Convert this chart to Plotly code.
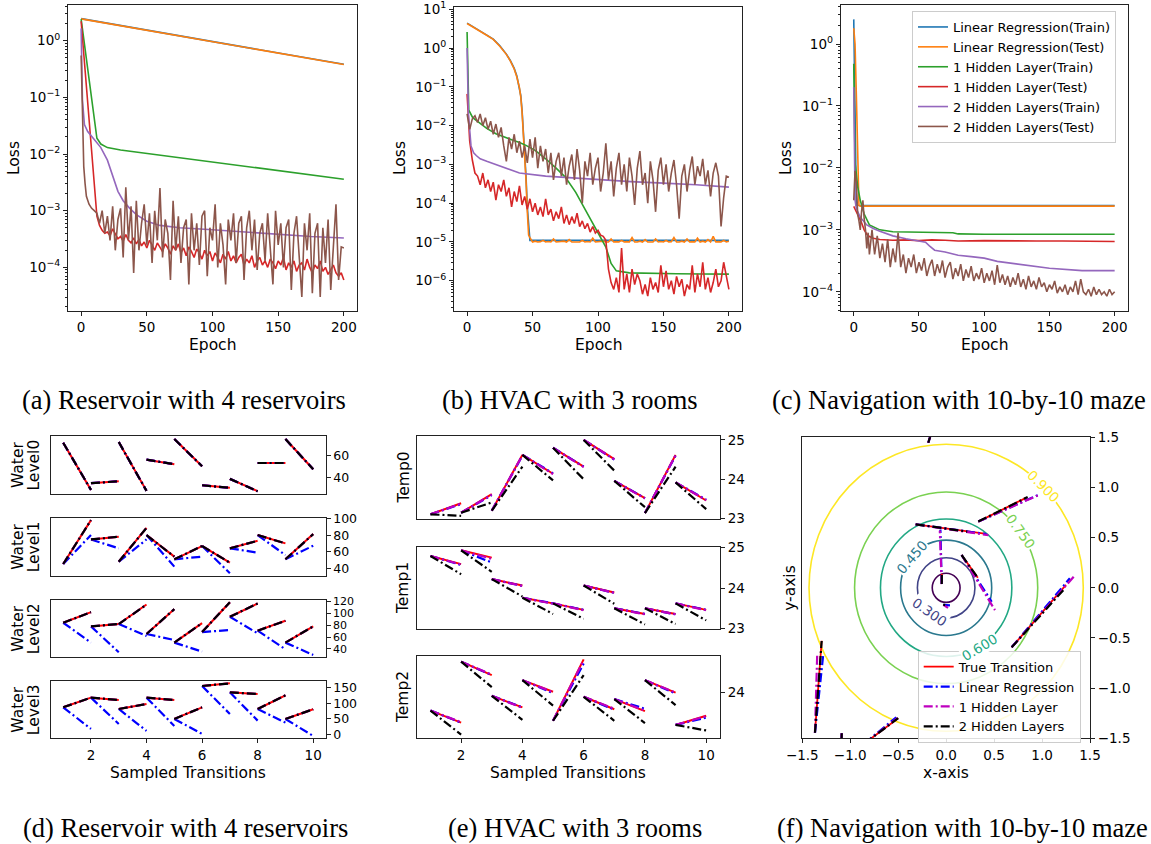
import plotly.graph_objects as go

W, H = 1151, 844

# ======================= DATA =======================
# ---- (a) Reservoir loss curves ----
a_lin_epochs = [0, 20, 40, 60, 80, 100, 120, 140, 160, 180, 200]
a_lin_train = [2.45, 2.03, 1.69, 1.40, 1.16, 0.97, 0.80, 0.67, 0.55, 0.46, 0.385]
a_lin_test = [2.43, 2.02, 1.68, 1.39, 1.15, 0.96, 0.80, 0.66, 0.55, 0.46, 0.38]
a_h1_train_epochs = [0, 2, 4, 6, 8, 10, 12, 15, 20, 30, 40, 50, 75, 100, 125, 150, 175, 200]
a_h1_train = [2.4, 1.05, 0.46, 0.2, 0.087, 0.038, 0.019, 0.015, 0.013, 0.0118, 0.011, 0.0101,
              0.0085, 0.0072, 0.006, 0.0051, 0.0043, 0.0036]
a_h2_train_epochs = [0, 1, 2.5, 5, 10, 15, 20, 24, 28, 32, 37, 42, 50, 60, 75, 100, 125, 150, 175, 200]
a_h2_train = [1.65, 0.09, 0.033, 0.025, 0.018, 0.013, 0.0078, 0.004, 0.0022, 0.0015, 0.0011, 0.00085,
              0.00065, 0.00055, 0.0005, 0.00046, 0.00042, 0.00038, 0.00035, 0.00033]
a_h1_test_head_epochs = [0, 2, 4, 6, 8, 10, 12, 14]
a_h1_test_head = [2.2, 0.59, 0.16, 0.042, 0.011, 0.003, 0.0008, 0.00055]
a_h1_test_tail_start = 16
a_h1_test_tail = [4.5e-4, 4.0e-4, 4.2e-4, 3.6e-4, 4.8e-4, 3.9e-4, 3.2e-4, 3.5e-4, 2.9e-4, 3.8e-4,
                  3.0e-4, 2.7e-4, 3.3e-4, 2.6e-4, 3.1e-4, 2.4e-4, 2.8e-4, 2.2e-4, 3.0e-4, 2.5e-4,
                  2.0e-4, 2.7e-4, 2.3e-4, 1.9e-4, 2.6e-4, 2.2e-4, 1.7e-4, 2.4e-4, 2.0e-4, 2.6e-4,
                  1.8e-4, 2.2e-4, 1.6e-4, 2.3e-4, 1.9e-4, 1.5e-4, 2.1e-4, 1.8e-4, 1.4e-4, 2.0e-4,
                  1.6e-4, 1.9e-4, 1.3e-4, 1.8e-4, 1.5e-4, 1.2e-4, 1.7e-4, 1.4e-4, 1.9e-4, 1.3e-4,
                  1.6e-4, 1.2e-4, 1.5e-4, 1.7e-4, 1.1e-4, 1.4e-4, 1.2e-4, 1.6e-4, 1.0e-4, 1.3e-4,
                  1.5e-4, 1.1e-4, 1.3e-4, 1.0e-4, 1.4e-4, 1.2e-4, 9.5e-5, 1.3e-4, 1.1e-4, 1.5e-4,
                  9.0e-5, 1.2e-4, 1.0e-4, 1.3e-4, 8.5e-5, 1.1e-4, 1.2e-4, 9.0e-5, 1.4e-4, 1.0e-4,
                  8.0e-5, 1.1e-4, 9.5e-5, 1.3e-4, 8.5e-5, 1.0e-4, 7.5e-5, 9.0e-5, 1.1e-4, 8.0e-5,
                  7.0e-5, 8.0e-5, 6.0e-5]
a_h2_test_head_epochs = [0, 1, 2, 3, 4, 6, 8, 10]
a_h2_test_head = [0.55, 0.05, 0.006, 0.003, 0.0018, 0.0013, 0.0011, 0.001]
a_h2_test_tail_start = 12
a_h2_test_tail = [9e-4, 6e-4, 1.0e-3, 4e-4, 8e-4, 3e-4, 1.2e-3, 2e-4, 7e-4, 1.1e-3,
                  1.5e-4, 2.6e-3, 3e-4, 1.2e-3, 8e-5, 1.5e-3, 2e-4, 6e-4, 1.3e-3, 2.5e-4,
                  9e-4, 1.2e-4, 1.0e-3, 3e-4, 2.5e-3, 1.5e-4, 7e-4, 4e-4, 6e-5, 1.5e-3,
                  2e-4, 8e-4, 1.2e-4, 5e-4, 7e-4, 5e-5, 9e-4, 2e-4, 6e-4, 1.1e-4,
                  8e-4, 1e-3, 7e-5, 5e-4, 3e-4, 1.3e-3, 1.0e-4, 6e-4, 2.5e-4, 5e-5,
                  7e-4, 3e-4, 9e-4, 1.2e-4, 6e-4, 8e-4, 6e-5, 5e-4, 1.0e-3, 2e-4,
                  7e-4, 9e-5, 4e-4, 6e-4, 1.3e-4, 9e-4, 2e-4, 5e-5, 1.0e-3, 2.5e-4,
                  6e-4, 1.0e-4, 5e-4, 7e-4, 4e-5, 4e-4, 8e-4, 1.5e-4, 3e-5, 6e-4,
                  2e-4, 9e-4, 3.5e-5, 4e-4, 6e-4, 3e-5, 5e-4, 1.2e-4, 7e-4, 4e-5,
                  3e-4, 1.3e-3, 6e-5, 2.3e-4, 2.2e-4]

# ---- (b) HVAC loss curves ----
b_lin_head_epochs = [0, 5, 10, 15, 20, 25, 30, 33, 36, 38, 40, 41, 42, 43, 44, 45, 46, 47, 48]
b_lin_train_head = [4.4, 3.5, 2.8, 2.2, 1.7, 1.15, 0.7, 0.48, 0.3, 0.19, 0.1, 0.06, 0.025, 0.008,
                    0.0025, 5e-4, 8e-5, 2e-5, 1.1e-5]
b_lin_train_tail_epochs = [60, 80, 100, 120, 140, 160, 180, 200]
b_lin_train_tail = [1.1e-5, 1.1e-5, 1.1e-5, 1.1e-5, 1.1e-5, 1.1e-5, 1.1e-5, 1.1e-5]
b_lin_test_head = [4.3, 3.45, 2.75, 2.15, 1.68, 1.12, 0.69, 0.47, 0.29, 0.18, 0.095, 0.055, 0.022,
                   0.007, 0.002, 4e-4, 6e-5, 1.5e-5, 1.3e-5]
b_lin_test_tail_start = 50
b_lin_test_tail = [1.0e-5, 1.05e-5, 1.0e-5, 1.02e-5, 1.1e-5, 1.0e-5, 1.03e-5, 1.0e-5, 1.2e-5, 1.0e-5,
                   1.02e-5, 1.0e-5, 1.05e-5, 1.0e-5, 1.15e-5, 1.0e-5, 1.02e-5, 1.0e-5, 1.0e-5, 1.1e-5,
                   1.0e-5, 1.03e-5, 1.0e-5, 1.25e-5, 1.0e-5, 1.02e-5, 1.0e-5, 1.05e-5, 1.0e-5, 1.0e-5,
                   1.2e-5, 1.0e-5, 1.02e-5, 1.0e-5, 1.1e-5, 1.0e-5, 1.02e-5, 1.0e-5, 1.3e-5, 1.0e-5,
                   1.0e-5, 1.05e-5, 1.0e-5, 1.15e-5, 1.0e-5, 1.02e-5, 1.0e-5, 1.2e-5, 1.0e-5, 1.03e-5,
                   1.0e-5, 1.1e-5, 1.0e-5, 1.02e-5, 1.3e-5, 1.0e-5, 1.0e-5, 1.05e-5, 1.0e-5, 1.2e-5,
                   1.0e-5, 1.02e-5, 1.0e-5, 1.25e-5, 1.0e-5, 1.05e-5, 1.0e-5, 1.15e-5, 1.0e-5, 1.4e-5,
                   1.0e-5, 1.02e-5, 1.0e-5, 1.1e-5, 1.0e-5, 1.05e-5]
b_h1_train_epochs = [0, 1.3, 4.3, 9.4, 15, 22, 30, 35, 40, 45, 52, 60, 68, 75, 83, 92, 101, 106,
                     110, 114, 124, 140, 160, 180, 200]
b_h1_train = [2.6, 0.025, 0.016, 0.012, 0.0085, 0.0062, 0.0048, 0.0042, 0.0037, 0.0031, 0.0023,
              0.0014, 0.0008, 0.00047, 0.00019, 5.4e-5, 1.6e-5, 7.4e-6, 2.8e-6, 1.8e-6, 1.6e-6,
              1.55e-6, 1.52e-6, 1.5e-6, 1.48e-6]
b_h2_train_epochs = [0, 1, 3, 5, 7, 10, 15, 25, 40, 60, 80, 100, 125, 150, 175, 200]
b_h2_train = [1.0, 0.02, 0.003, 0.002, 0.0017, 0.0014, 0.0012, 0.0009, 0.0006, 0.0005, 0.00045,
              0.0004, 0.00036, 0.00033, 0.0003, 0.00026]
b_h1_test_head_epochs = [0, 1, 2, 4, 6]
b_h1_test_head = [0.066, 0.01, 0.004, 0.0013, 0.0006]
b_h1_test_tail_start = 8
b_h1_test_tail = [5e-4, 3e-4, 6e-4, 2.5e-4, 4e-4, 2e-4, 3.5e-4, 1.2e-4, 3e-4, 2e-4,
                  4e-4, 1.5e-4, 2.5e-4, 8e-5, 2e-4, 1.1e-4, 2.8e-4, 9e-5, 1.5e-4, 7e-5,
                  1.3e-4, 6e-5, 1e-4, 5e-5, 8e-5, 4.5e-5, 1.3e-4, 5e-5, 7e-5, 3.5e-5,
                  6e-5, 4e-5, 8e-5, 3e-5, 5e-5, 2.8e-5, 4.5e-5, 3e-5, 5.5e-5, 2.5e-5,
                  3.5e-5, 2.2e-5, 3e-5, 1.8e-5, 2.5e-5, 1.7e-5, 2e-5, 1.5e-5, 1.4e-5,
                  1.1e-5, 2e-6, 9e-7,
                  6e-7, 1.2e-6, 5e-7, 7e-6, 6e-7, 1.5e-6, 5e-7, 2e-6, 8e-7, 1.5e-6,
                  1e-6, 4.5e-7, 8e-7, 4e-7, 1.2e-6, 6e-7, 9e-7, 5e-7, 2.5e-6, 7e-7,
                  1.8e-6, 6e-7, 1e-6, 4.5e-7, 1.3e-6, 7e-7, 1.1e-6, 4e-7, 8e-7, 6e-7,
                  2.5e-6, 5e-7, 1.5e-6, 7e-7, 3e-6, 6e-7, 1.2e-6, 5e-7, 9e-7, 2e-6,
                  7e-7, 1e-6, 3e-6, 1.2e-6, 6e-7]
b_h2_test_start = 0
b_h2_test = [2e-2, 8e-3, 1.5e-2, 1.8e-2, 1.2e-2, 2e-2, 1e-2, 1.6e-2, 8e-3, 1.3e-2,
             6e-3, 1.1e-2, 5e-3, 9e-3, 3e-3, 1.2e-3, 5e-3, 2.5e-3, 6e-3, 2e-3,
             4e-3, 1.5e-3, 3e-3, 1.1e-3, 4.5e-3, 1.5e-3, 5e-3, 8e-4, 3e-3, 1.2e-3,
             2.5e-3, 6e-4, 2e-3, 4e-4, 1.2e-3, 2e-3, 5e-4, 1.5e-3, 3e-4, 9e-4,
             1.8e-3, 4e-4, 2.5e-3, 7e-4, 1e-4, 1.2e-3, 5e-4, 2e-3, 3e-4, 8e-4,
             1.5e-3, 2e-4, 6e-4, 3.5e-3, 4e-4, 1.2e-3, 1.5e-4, 8e-4, 2e-3, 3e-4,
             1e-3, 2e-4, 1.5e-3, 5e-4, 9e-5, 8e-4, 2.2e-3, 3e-4, 6e-4, 1e-4,
             1.2e-3, 4e-4, 6e-5, 7e-4, 1.5e-3, 3e-4, 1e-3, 2e-4, 6e-4, 1.3e-3,
             3e-4, 4e-5, 5e-4, 1e-3, 2e-4, 7e-4, 1.6e-3, 3e-4, 9e-4, 5e-4,
             1.4e-3, 3e-4, 7e-4, 1.5e-4, 6e-4, 1.1e-3, 5e-4, 2.5e-5, 1.4e-4, 5e-4,
             4.7e-4]

# ---- (c) Navigation loss curves ----
c_lin_train_epochs = [0, 1, 2, 5, 50, 100, 150, 200]
c_lin_train = [2.5, 0.03, 0.0025, 0.00247, 0.00247, 0.00247, 0.00247, 0.00247]
c_lin_test_epochs = [0, 1, 2, 3, 4, 5, 50, 100, 150, 200]
c_lin_test = [1.8, 1.0, 0.15, 0.02, 0.0025, 0.00242, 0.00242, 0.00242, 0.00242, 0.00242]
c_h1_train_epochs = [0, 1, 2, 3, 5, 8, 12, 20, 30, 50, 70, 76, 80, 100, 150, 200]
c_h1_train = [0.48, 0.012, 0.008, 0.005, 0.003, 0.0018, 0.0012, 0.001, 0.00093, 0.00092, 0.00091,
              0.0009, 0.00086, 0.00085, 0.00085, 0.00085]
c_h1_test_epochs = [0, 2, 4, 6, 8, 10, 12, 15, 20, 30, 40, 50, 60, 70, 80, 100, 120, 140, 160, 180, 200]
c_h1_test = [0.0024, 0.0019, 0.0016, 0.0013, 0.001, 0.00085, 0.00078, 0.00073, 0.0007, 0.00068,
             0.00069, 0.00067, 0.00069, 0.00068, 0.00066, 0.00067, 0.00066, 0.00066, 0.00066,
             0.00066, 0.00065]
c_h2_train_epochs = [0, 1, 2, 5, 10, 15, 20, 30, 40, 50, 55, 58, 62, 70, 80, 90, 100, 110, 125,
                     140, 150, 175, 200]
c_h2_train = [0.2, 0.003, 0.0022, 0.0016, 0.0012, 0.00105, 0.00095, 0.0008, 0.00072, 0.00067,
              0.00063, 0.00055, 0.00047, 0.00044, 0.00039, 0.00037, 0.00035, 0.00031, 0.00028,
              0.00025, 0.00024, 0.00022, 0.00022]
c_h2_test_head_epochs = [0, 1, 2, 3, 4, 5, 6, 7, 8, 9, 10, 11, 12, 13, 14]
c_h2_test_head = [3e-3, 9e-3, 6e-3, 1.8e-3, 1.4e-3, 1e-3, 2e-3, 3e-3, 1.5e-3, 1e-3,
                  5e-4, 9e-4, 4e-4, 7e-4, 1e-3]
c_h2_test_tail_start = 16
c_h2_test_tail = [4e-4, 8e-4, 3.5e-4, 6e-4, 3e-4, 7e-4, 2.5e-4, 5e-4, 3e-4, 9e-4,
                  2.5e-4, 4e-4, 2e-4, 3.5e-4, 2.5e-4, 4e-4, 2e-4, 3e-4, 2.2e-4, 3.5e-4,
                  1.8e-4, 2.6e-4, 3.3e-4, 1.8e-4, 2.8e-4, 2e-4, 3.2e-4, 1.7e-4, 2.5e-4, 3e-4,
                  1.6e-4, 2.4e-4, 1.8e-4, 2.8e-4, 1.5e-4, 2.3e-4, 1.7e-4, 2.6e-4, 1.5e-4, 2e-4,
                  1.6e-4, 2.4e-4, 1.4e-4, 2e-4, 1.5e-4, 2.2e-4, 1.3e-4, 2.7e-4, 1.4e-4, 1.9e-4,
                  1.3e-4, 1.8e-4, 1.2e-4, 1.7e-4, 1.3e-4, 2e-4, 1.2e-4, 1.6e-4, 1.1e-4, 1.8e-4,
                  1.2e-4, 1.5e-4, 1.1e-4, 1.7e-4, 1.2e-4, 1.4e-4, 1e-4, 1.3e-4, 1.1e-4, 1.5e-4,
                  9.5e-5, 1.2e-4, 1e-4, 1.3e-4, 9e-5, 1.2e-4, 1e-4, 1.5e-4, 9e-5, 1.6e-4,
                  1e-4, 9e-5, 1.1e-4, 8.5e-5, 1.2e-4, 9e-5, 1.1e-4, 9e-5, 1e-4, 8.5e-5,
                  1.1e-4, 9e-5, 1e-4]

# ---- (d) Reservoir sampled transitions ----
trans_idx = [1, 2, 3, 4, 5, 6, 7, 8, 9]
res_start = [
    [72.0, 34.5, 72.6, 56.3, 75.4, 32.6, 38.5, 53.2, 75.4],
    [45.2, 75.0, 48.0, 80.3, 50.9, 67.0, 64.2, 80.3, 50.9],
    [83.9, 77.8, 81.7, 65.0, 50.6, 68.3, 93.9, 70.6, 50.6],
    [86.8, 117.9, 81.4, 117.9, 49.3, 155.4, 135.0, 81.4, 49.3],
]
res_true = [
    [28.3, 36.3, 27.4, 52.0, 50.2, 30.2, 27.1, 53.2, 47.4],
    [98.4, 78.3, 89.1, 54.1, 67.0, 46.8, 73.4, 70.2, 81.5],
    [101.7, 81.7, 114.4, 106.7, 83.3, 118.3, 116.1, 87.2, 77.8],
    [117.9, 110.4, 97.5, 110.4, 86.8, 163.9, 129.6, 125.4, 80.4],
]
res_lin = [
    [28.3, 36.3, 27.4, 52.0, 50.2, 30.2, 27.1, 53.2, 47.4],
    [80.3, 64.2, 75.0, 42.0, 54.1, 34.0, 59.0, 56.0, 67.4],
    [50.6, 34.4, 61.7, 55.0, 35.6, 71.7, 66.1, 39.4, 30.0],
    [17.1, 33.2, 10.7, 26.8, 1.1, 65.4, 43.9, 37.5, -5.4],
]
res_h1 = res_true
res_h2 = res_true
res_labels = ["Water<br>Level0", "Water<br>Level1", "Water<br>Level2", "Water<br>Level3"]
res_ranges = [[24.5, 78.2], [31, 101], [26, 122], [-13, 171.5]]
res_ticks = [[40, 60], [40, 60, 80, 100], [40, 60, 80, 100, 120], [0, 50, 100, 150]]

# ---- (e) HVAC sampled transitions ----
hvac_start = [
    [23.11, 23.15, 23.20, 24.62, 24.80, 25.00, 23.96, 23.14, 23.92],
    [24.79, 24.93, 24.22, 23.76, 23.62, 24.06, 23.50, 23.50, 23.62],
    [23.61, 24.67, 23.93, 24.27, 23.39, 23.91, 23.86, 24.27, 23.30],
]
hvac_true = [
    [23.39, 23.62, 24.62, 24.14, 24.32, 24.51, 23.52, 24.62, 23.46],
    [24.59, 24.75, 24.06, 23.62, 23.46, 23.89, 23.36, 23.36, 23.46],
    [23.35, 24.38, 23.68, 24.02, 24.72, 23.64, 23.60, 24.00, 23.50],
]
hvac_lin = [
    [23.37, 23.60, 24.60, 24.15, 24.32, 24.50, 23.52, 24.60, 23.48],
    [24.57, 24.63, 24.05, 23.62, 23.46, 23.88, 23.36, 23.35, 23.46],
    [23.35, 24.38, 23.68, 23.99, 24.63, 23.63, 23.65, 23.98, 23.46],
]
hvac_h1 = [
    [23.38, 23.61, 24.61, 24.13, 24.31, 24.51, 23.51, 24.61, 23.47],
    [24.58, 24.72, 24.05, 23.61, 23.45, 23.88, 23.35, 23.35, 23.45],
    [23.36, 24.39, 23.67, 24.01, 24.70, 23.65, 23.61, 24.00, 23.49],
]
hvac_h2 = [
    [23.07, 23.41, 24.32, 23.97, 24.00, 24.22, 23.29, 24.32, 23.24],
    [24.34, 24.40, 23.79, 23.36, 23.24, 23.61, 23.10, 23.11, 23.20],
    [23.09, 24.12, 23.41, 23.72, 24.38, 23.39, 23.34, 23.73, 23.18],
]
hvac_labels = ["Temp0", "Temp1", "Temp2"]
hvac_ranges = [[22.99, 25.10], [22.98, 25.02], [23.01, 24.80]]
hvac_ticks = [[23, 24, 25], [23, 24, 25], [23, 24]]

# ---- (f) Navigation transitions ----
nav_start_x = [-0.186, 0.335, -0.318, -0.046, -0.03, 0.161, 0.683, -1.368, -0.85, -1.089, 0.21]
nav_start_y = [1.446, 0.66, 0.633, 0.037, -0.17, 0.327, -0.593, -1.445, -1.55, -1.45, -0.63]
nav_true_x = [-0.15, 0.839, 0.40, -0.046, 0.0, 0.33, 1.25, -1.298, -0.50, -1.10, 0.27]
nav_true_y = [1.56, 0.899, 0.54, 0.14, -0.175, 0.10, 0.03, -0.528, -1.30, -1.9, -0.56]
nav_lin_x = [-0.15, 0.97, 0.42, -0.06, 0.04, 0.475, 1.29, -1.28, -0.52, -1.10, 0.27]
nav_lin_y = [1.56, 0.93, 0.535, 0.58, -0.175, -0.139, 0.095, -0.65, -1.29, -1.9, -0.57]
nav_h1_x = [-0.15, 1.006, 0.44, -0.066, 0.02, 0.509, 1.33, -1.344, -0.51, -1.10, 0.26]
nav_h1_y = [1.56, 0.942, 0.525, 0.57, -0.2, -0.222, 0.11, -0.648, -1.30, -1.9, -0.57]
nav_h2_x = [-0.15, 0.85, 0.22, -0.045, -0.01, 0.33, 1.239, -1.298, -0.50, -1.10, 0.27]
nav_h2_y = [1.56, 0.905, 0.56, 0.15, -0.17, 0.10, -0.005, -0.53, -1.30, -1.9, -0.56]
contour_levels = [0.15, 0.30, 0.45, 0.60, 0.75, 0.90]
contour_radii = [0.145, 0.30, 0.475, 0.685, 0.955, 1.43]
contour_colors = ["#440154", "#414487", "#2a788e", "#22a884", "#7ad151", "#fde725"]
label_levels = [0.30, 0.45, 0.60, 0.75, 0.90]
label_angles_deg = [-125, 139, -59, 36, 45]

captions = ["(a) Reservoir with 4 reservoirs", "(b) HVAC with 3 rooms", "(c) Navigation with 10-by-10 maze",
            "(d) Reservoir with 4 reservoirs", "(e) HVAC with 3 rooms", "(f) Navigation with 10-by-10 maze"]
model_names = ["Linear Regression(Train)", "Linear Regression(Test)", "1 Hidden Layer(Train)",
               "1 Hidden Layer(Test)", "2 Hidden Layers(Train)", "2 Hidden Layers(Test)"]
trans_names = ["True Transition", "Linear Regression", "1 Hidden Layer", "2 Hidden Layers"]

# ======================= STYLE =======================
import math
TAB = ["#1f77b4", "#ff7f0e", "#2ca02c", "#d62728", "#9467bd", "#8c564b"]
FONT = "DejaVu Sans"
SERIF = "Liberation Serif, Times New Roman, serif"
TICK_SIZE = 13.5
LABEL_SIZE = 15.5
DASHDOT = "9px,3px,2px,3px"
FRAME = "#222222"
RES_TICK_SIZES = [12.5, 12.5, 11.0, 12.5]


def dx(p0, p1):
    return [p0 / W, p1 / W]


def dy(p0, p1):
    return [1 - p1 / H, 1 - p0 / H]


def tail_epochs(start, vals):
    return [start + 2 * i for i in range(len(vals))]


fig = go.Figure()
layout = dict(width=W, height=H, margin=dict(l=0, r=0, t=0, b=0, pad=0),
              paper_bgcolor="white", plot_bgcolor="white",
              font=dict(family=FONT, size=TICK_SIZE, color="black"),
              showlegend=True)


def base_axis(tsize=TICK_SIZE, **kw):
    d = dict(showline=True, linecolor=FRAME, linewidth=1, mirror=True, ticks="outside",
             ticklen=4, tickwidth=1, tickcolor=FRAME, showgrid=False, zeroline=False,
             automargin=False, ticklabeloverflow="allow",
             tickfont=dict(family=FONT, size=tsize, color="black"))
    d.update(kw)
    return d


def axname(i, kind):
    return f"{kind}axis" if i == 1 else f"{kind}axis{i}"


def ref(i, kind):
    return kind if i == 1 else f"{kind}{i}"


def add_line(i, x, y, color, width=1.6, dash=None, name=None, legend=None, showlegend=False):
    line = dict(color=color, width=width)
    if dash:
        line["dash"] = dash
    tr = go.Scatter(x=x, y=y, mode="lines", line=line, xaxis=ref(i, "x"), yaxis=ref(i, "y"),
                    showlegend=showlegend, hoverinfo="skip")
    if name:
        tr.name = name
    if legend:
        tr.legend = legend
    fig.add_trace(tr)


annotations = []


def text_note(txt, px, py, angle=0, size=LABEL_SIZE, family=FONT):
    annotations.append(dict(text=txt, x=px / W, y=1 - py / H, xref="paper", yref="paper",
                            showarrow=False, textangle=angle, font=dict(size=size, family=family, color="black"),
                            xanchor="center", yanchor="middle"))


# ---------------- top row: loss curves ----------------
exps_a = [-4, -3, -2, -1, 0]
exps_b = [-6, -5, -4, -3, -2, -1, 0, 1]
exps_c = [-4, -3, -2, -1, 0]
top_geo = [((68, 357), (5, 311), [-4.77, 0.63], exps_a, 14),
           ((454, 742), (7, 311), [-6.78, 1.06], exps_b, 400),
           ((840.7, 1127.7), (5, 311), [-4.31, 0.63], exps_c, 786)]
for k, (xs, ys, yr, exps, loss_x) in enumerate(top_geo):
    i = k + 1
    layout[axname(i, "x")] = base_axis(domain=dx(*xs), range=[-10, 210], anchor=ref(i, "y"),
                                       tickvals=[0, 50, 100, 150, 200])
    layout[axname(i, "y")] = base_axis(domain=dy(*ys), type="log", range=yr, anchor=ref(i, "x"),
                                       tickvals=[10 ** e for e in exps],
                                       ticktext=["10<sup>%s</sup>" % (str(e).replace("-", "\u2212")) for e in exps],
                                       minor=dict(ticks="outside", ticklen=2.2, tickwidth=0.8, tickcolor=FRAME,
                                                  dtick="D1", showgrid=False))
    text_note("Epoch", (xs[0] + xs[1]) / 2, 345)
    text_note("Loss", loss_x, 158, angle=-90)

# (a)
add_line(1, a_lin_epochs, a_lin_train, TAB[0])
add_line(1, a_lin_epochs, a_lin_test, TAB[1])
add_line(1, a_h1_train_epochs, a_h1_train, TAB[2])
add_line(1, a_h1_test_head_epochs + tail_epochs(a_h1_test_tail_start, a_h1_test_tail),
         a_h1_test_head + a_h1_test_tail, TAB[3])
add_line(1, a_h2_train_epochs, a_h2_train, TAB[4])
add_line(1, a_h2_test_head_epochs + tail_epochs(a_h2_test_tail_start, a_h2_test_tail),
         a_h2_test_head + a_h2_test_tail, TAB[5])
# (b)
add_line(2, b_lin_head_epochs + b_lin_train_tail_epochs, b_lin_train_head + b_lin_train_tail, TAB[0])
add_line(2, b_lin_head_epochs + tail_epochs(b_lin_test_tail_start, b_lin_test_tail),
         b_lin_test_head + b_lin_test_tail, TAB[1])
add_line(2, b_h1_train_epochs, b_h1_train, TAB[2])
add_line(2, b_h1_test_head_epochs + tail_epochs(b_h1_test_tail_start, b_h1_test_tail),
         b_h1_test_head + b_h1_test_tail, TAB[3])
add_line(2, b_h2_train_epochs, b_h2_train, TAB[4])
add_line(2, tail_epochs(b_h2_test_start, b_h2_test), b_h2_test, TAB[5])
# (c) with legend
add_line(3, c_lin_train_epochs, c_lin_train, TAB[0], name=model_names[0], legend="legend", showlegend=True)
add_line(3, c_lin_test_epochs, c_lin_test, TAB[1], name=model_names[1], legend="legend", showlegend=True)
add_line(3, c_h1_train_epochs, c_h1_train, TAB[2], name=model_names[2], legend="legend", showlegend=True)
add_line(3, c_h1_test_epochs, c_h1_test, TAB[3], name=model_names[3], legend="legend", showlegend=True)
add_line(3, c_h2_train_epochs, c_h2_train, TAB[4], name=model_names[4], legend="legend", showlegend=True)
add_line(3, c_h2_test_head_epochs + tail_epochs(c_h2_test_tail_start, c_h2_test_tail),
         c_h2_test_head + c_h2_test_tail, TAB[5], name=model_names[5], legend="legend", showlegend=True)


# ---------------- segments helper ----------------
def seg_xy(xs0, ys0, xs1, ys1):
    X, Y = [], []
    for a, b, c, d in zip(xs0, ys0, xs1, ys1):
        X += [a, c, None]
        Y += [b, d, None]
    return X, Y


trans_colors = ["#ff0000", "#0000ff", "#bf00bf", "#000000"]

# ---------------- (d) reservoir transitions ----------------
d_rows = [(436, 494), (518, 575.7), (600, 657.3), (681, 738.3)]
for r in range(4):
    i = 4 + r
    last = r == 3
    layout[axname(i, "x")] = base_axis(domain=dx(50.7, 325.7), range=[0.55, 10.45], anchor=ref(i, "y"),
                                       tickvals=[2, 4, 6, 8, 10], showticklabels=last,
                                       ticks="outside" if last else "")
    layout[axname(i, "y")] = base_axis(tsize=RES_TICK_SIZES[r], domain=dy(*d_rows[r]), range=res_ranges[r],
                                       side="right", anchor=ref(i, "x"), tickvals=res_ticks[r])
    nxt = [t + 1 for t in trans_idx]
    for ends, col, dash, w in [(res_true[r], trans_colors[0], None, 2.0),
                               (res_lin[r], trans_colors[1], DASHDOT, 2.2),
                               (res_h1[r], trans_colors[2], DASHDOT, 2.2),
                               (res_h2[r], trans_colors[3], DASHDOT, 2.2)]:
        X, Y = seg_xy(trans_idx, res_start[r], nxt, ends)
        add_line(i, X, Y, col, width=w, dash=dash)
    yc = (d_rows[r][0] + d_rows[r][1]) / 2
    for li, part in enumerate(res_labels[r].split("<br>")):
        text_note(part, 18 + 15.5 * li, yc, angle=-90)
text_note("Sampled Transitions", (50.7 + 325.7) / 2, 773)

# ---------------- (e) hvac transitions ----------------
e_rows = [(436, 519), (546.7, 629.3), (655.7, 738.3)]
for r in range(3):
    i = 8 + r
    last = r == 2
    layout[axname(i, "x")] = base_axis(domain=dx(416.7, 720), range=[0.55, 10.45], anchor=ref(i, "y"),
                                       tickvals=[2, 4, 6, 8, 10], showticklabels=last,
                                       ticks="outside" if last else "")
    layout[axname(i, "y")] = base_axis(domain=dy(*e_rows[r]), range=hvac_ranges[r], side="right",
                                       anchor=ref(i, "x"), tickvals=hvac_ticks[r])
    nxt = [t + 1 for t in trans_idx]
    for ends, col, dash, w in [(hvac_true[r], trans_colors[0], None, 2.0),
                               (hvac_lin[r], trans_colors[1], DASHDOT, 2.2),
                               (hvac_h1[r], trans_colors[2], DASHDOT, 2.2),
                               (hvac_h2[r], trans_colors[3], DASHDOT, 2.2)]:
        X, Y = seg_xy(trans_idx, hvac_start[r], nxt, ends)
        add_line(i, X, Y, col, width=w, dash=dash)
    text_note(hvac_labels[r], 403, (e_rows[r][0] + e_rows[r][1]) / 2, angle=-90)
text_note("Sampled Transitions", (416.7 + 720) / 2, 773)

# ---------------- (f) navigation ----------------
nav_ticks = [-1.5, -1.0, -0.5, 0.0, 0.5, 1.0, 1.5]
layout["xaxis11"] = base_axis(domain=dx(802.3, 1090), range=[-1.5, 1.5], anchor="y11",
                              tickvals=nav_ticks, tickformat=".1f")
layout["yaxis11"] = base_axis(domain=dy(437.3, 738.3), range=[-1.5, 1.5], anchor="x11", side="right",
                              tickvals=nav_ticks, tickformat=".1f")
text_note("x-axis", (802.3 + 1090) / 2, 773)
text_note("y-axis", 790, 587.8, angle=-90)
shapes = []
for lev, rad, col in zip(contour_levels, contour_radii, contour_colors):
    shapes.append(dict(type="circle", xref="x11", yref="y11", x0=-rad, y0=-rad, x1=rad, y1=rad,
                       line=dict(color=col, width=1.6), layer="below"))
for lev, ang in zip(label_levels, label_angles_deg):
    k = contour_levels.index(lev)
    rad = contour_radii[k]
    th = math.radians(ang)
    tang = ang - 90
    while tang <= -90:
        tang += 180
    while tang > 90:
        tang -= 180
    annotations.append(dict(text="%.3f" % lev, x=rad * math.cos(th), y=rad * math.sin(th),
                            xref="x11", yref="y11", showarrow=False, textangle=-tang,
                            font=dict(size=13.5, family=FONT, color=contour_colors[k]),
                            bgcolor="white", borderpad=0, xanchor="center", yanchor="middle"))

nav_models = [(nav_true_x, nav_true_y, None, 1.8),
              (nav_lin_x, nav_lin_y, DASHDOT, 2.2),
              (nav_h1_x, nav_h1_y, DASHDOT, 2.2),
              (nav_h2_x, nav_h2_y, DASHDOT, 2.2)]
for m, (ex, ey, dash, w) in enumerate(nav_models):
    X, Y = seg_xy(nav_start_x, nav_start_y, ex, ey)
    add_line(11, X, Y, trans_colors[m], width=w, dash=dash, name=trans_names[m], legend="legend2",
             showlegend=True)

# ---------------- captions ----------------
cap_pos = [(184, 400), (570, 400), (959, 400), (185, 828), (575, 828), (962, 828)]
for txt, (cx, cy) in zip(captions, cap_pos):
    text_note(txt, cx, cy, size=26.5, family=SERIF)

layout["annotations"] = annotations
layout["shapes"] = shapes
layout["legend"] = dict(x=912 / W, y=1 - 11 / H, xanchor="left", yanchor="top",
                        bordercolor="#cccccc", borderwidth=1, bgcolor="rgba(255,255,255,0.85)",
                        font=dict(family=FONT, size=13), itemwidth=30, tracegroupgap=0)
layout["legend2"] = dict(x=917.7 / W, y=1 - 650.7 / H, xanchor="left", yanchor="top",
                         bordercolor="#cccccc", borderwidth=1, bgcolor="rgba(255,255,255,0.85)",
                         font=dict(family=FONT, size=13), itemwidth=30, tracegroupgap=0)
fig.update_layout(**layout)

fig.write_html("out.html", config=dict(displayModeBar=False),
               post_script="document.body.style.margin='0';document.body.style.overflow='hidden';")
